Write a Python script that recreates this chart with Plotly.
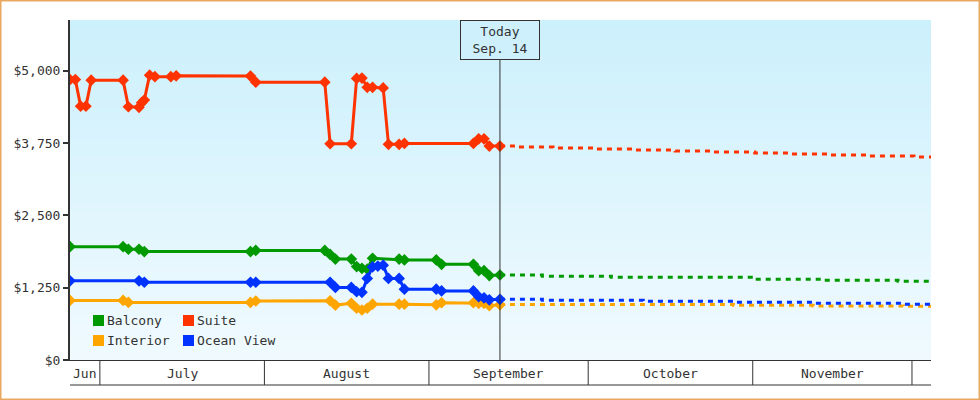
import pandas as pd
import plotly.graph_objects as go

# --- Data: cabin prices (USD), sampled once a day ---
TODAY = "2023-09-14"
X_START, X_END = "2023-06-25 09:00", "2023-12-04 14:00"
MONTH_STARTS = ["2023-07-01", "2023-08-01", "2023-09-01", "2023-10-01", "2023-11-01", "2023-12-01"]
MONTH_LABELS = ["Jun", "July", "August", "September", "October", "November", ""]
Y_TICKS = [0, 1250, 2500, 3750, 5000]

balcony_dates = ["2023-06-25", "2023-07-05", "2023-07-06", "2023-07-08", "2023-07-09", "2023-07-29", "2023-07-30",
                 "2023-08-12", "2023-08-13", "2023-08-14", "2023-08-17", "2023-08-18", "2023-08-19", "2023-08-20",
                 "2023-08-21", "2023-08-26", "2023-08-27", "2023-09-02", "2023-09-03", "2023-09-09", "2023-09-10",
                 "2023-09-11", "2023-09-12", "2023-09-14"]
balcony_prices = [1960, 1960, 1915, 1915, 1875, 1875, 1895, 1895, 1825, 1745, 1745, 1615, 1585, 1570,
                  1760, 1745, 1730, 1730, 1655, 1655, 1545, 1545, 1460, 1470]
balcony_fc_dates = ["2023-09-14", "2023-09-22", "2023-10-05", "2023-11-01", "2023-11-14", "2023-11-28", "2023-12-05"]
balcony_fc_prices = [1468, 1450, 1430, 1395, 1378, 1361, 1361]

interior_dates = ["2023-06-25", "2023-07-05", "2023-07-06", "2023-07-29", "2023-07-30", "2023-08-13", "2023-08-14",
                  "2023-08-17", "2023-08-18", "2023-08-19", "2023-08-20", "2023-08-21", "2023-08-26", "2023-08-27",
                  "2023-09-02", "2023-09-03", "2023-09-09", "2023-09-10", "2023-09-11", "2023-09-12", "2023-09-14"]
interior_prices = [1030, 1030, 995, 995, 1020, 1025, 950, 980, 895, 865, 895, 965, 965, 965,
                   955, 990, 990, 980, 980, 940, 955]
interior_fc_dates = ["2023-09-14", "2023-10-28", "2023-11-12", "2023-11-29", "2023-12-05"]
interior_fc_prices = [960, 945, 935, 928, 928]

ocean_dates = ["2023-06-25", "2023-07-08", "2023-07-09", "2023-07-29", "2023-07-30", "2023-08-13", "2023-08-14",
               "2023-08-17", "2023-08-18", "2023-08-19", "2023-08-20", "2023-08-21", "2023-08-22", "2023-08-23",
               "2023-08-24", "2023-08-26", "2023-08-27", "2023-09-02", "2023-09-03", "2023-09-09", "2023-09-10",
               "2023-09-11", "2023-09-12", "2023-09-14"]
ocean_prices = [1370, 1370, 1345, 1345, 1345, 1345, 1255, 1255, 1180, 1170, 1410, 1610, 1625, 1640,
                1410, 1410, 1225, 1225, 1195, 1195, 1095, 1075, 1040, 1050]
ocean_fc_dates = ["2023-09-14", "2023-09-22", "2023-10-11", "2023-10-28", "2023-11-12", "2023-11-29", "2023-12-05"]
ocean_fc_prices = [1050, 1032, 1015, 998, 980, 963, 963]

suite_dates = ["2023-06-25", "2023-06-26", "2023-06-27", "2023-06-28", "2023-06-29", "2023-07-05", "2023-07-06",
               "2023-07-08", "2023-07-08 12:00", "2023-07-09", "2023-07-10", "2023-07-11", "2023-07-14", "2023-07-15",
               "2023-07-29", "2023-07-30", "2023-08-12", "2023-08-13", "2023-08-17", "2023-08-18", "2023-08-19",
               "2023-08-20", "2023-08-21", "2023-08-23", "2023-08-24", "2023-08-26", "2023-08-27", "2023-09-09",
               "2023-09-10", "2023-09-11", "2023-09-12", "2023-09-14"]
suite_prices = [4850, 4850, 4390, 4390, 4840, 4840, 4380, 4370, 4450, 4495, 4925, 4900, 4900, 4915,
                4910, 4805, 4805, 3740, 3740, 4870, 4875, 4715, 4715, 4705, 3730, 3730, 3745, 3745,
                3825, 3825, 3700, 3700]
suite_fc_dates = ["2023-09-14", "2023-09-17", "2023-09-24", "2023-10-02", "2023-10-09", "2023-10-17", "2023-10-24",
                  "2023-11-01", "2023-11-08", "2023-11-15", "2023-11-22", "2023-12-01", "2023-12-05"]
suite_fc_prices = [3700, 3683, 3666, 3648, 3631, 3614, 3597, 3579, 3562, 3545, 3527, 3510, 3510]

# --- Style ---
COLORS = {"Balcony": "#009900", "Suite": "#ff3300", "Interior": "#ffa500", "Ocean View": "#0033ff"}
FONT = dict(family="DejaVu Sans Mono", size=13, color="#333333")
INK = "#333333"
W, H = 980, 400
PLOT_L, PLOT_R, PLOT_T, PLOT_B = 70, 931, 20, 360
BG_TOP, BG_BOTTOM = (204, 240, 252), (240, 250, 254)


def to_x(dates):
    # prices were scraped in the morning
    return pd.to_datetime(dates, format="ISO8601") + pd.Timedelta(hours=9)


def px(x): return (x - PLOT_L) / (PLOT_R - PLOT_L)
def py(y): return (PLOT_B - y) / (PLOT_B - PLOT_T)


fig = go.Figure()
rooms = [("Balcony", balcony_dates, balcony_prices, balcony_fc_dates, balcony_fc_prices),
         ("Interior", interior_dates, interior_prices, interior_fc_dates, interior_fc_prices),
         ("Ocean View", ocean_dates, ocean_prices, ocean_fc_dates, ocean_fc_prices),
         ("Suite", suite_dates, suite_prices, suite_fc_dates, suite_fc_prices)]
for name, d, p, fd, fp in rooms:
    c = COLORS[name]
    fig.add_trace(go.Scatter(x=to_x(fd), y=fp, mode="lines", name=name + " forecast", showlegend=False,
                             line=dict(color=c, width=3, dash="5px,5px", shape="hv")))
    fig.add_trace(go.Scatter(x=to_x(d), y=p, mode="lines+markers", name=name, showlegend=False,
                             line=dict(color=c, width=3), marker=dict(symbol="diamond", size=9, color=c)))

shapes, annotations = [], []

# gradient background in thin bands
n = 85
for i in range(n):
    t = i / (n - 1)
    col = "rgb(%d,%d,%d)" % tuple(round(a + (b - a) * t) for a, b in zip(BG_TOP, BG_BOTTOM))
    shapes.append(dict(type="rect", xref="paper", yref="paper", x0=0, x1=1, y0=1 - (i + 1) / n - 0.002, y1=1 - i / n,
                       fillcolor=col, line_width=0, layer="below"))

# month band under the plot
shapes.append(dict(type="line", xref="paper", yref="paper", x0=0, x1=1, y0=py(385), y1=py(385), line=dict(color=INK, width=1)))
for m in MONTH_STARTS:
    shapes.append(dict(type="line", xref="x", yref="paper", x0=m, x1=m, y0=py(385), y1=0, line=dict(color=INK, width=1)))
edges = [pd.Timestamp(X_START)] + [pd.Timestamp(m) for m in MONTH_STARTS] + [pd.Timestamp(X_END)]
for a, b, label in zip(edges[:-1], edges[1:], MONTH_LABELS):
    if label:
        annotations.append(dict(x=a + (b - a) / 2, xref="x", y=py(373), yref="paper", text=label,
                                showarrow=False, font=FONT, yanchor="middle"))

# today marker
today = to_x([TODAY])[0]
shapes.append(dict(type="line", xref="x", yref="paper", x0=today, x1=today, y0=0, y1=py(60), line=dict(color=INK, width=1)))
annotations.append(dict(x=today, xref="x", y=1, yref="paper", yanchor="top", showarrow=False,
                        text=f"Today<br>{today:%b}. {today.day}", font=FONT, width=78, height=38, borderpad=0,
                        bordercolor=INK, borderwidth=1, bgcolor="rgb(205,240,252)"))

# legend: coloured squares + labels, two columns
legend_rows = [[("Balcony", 93), ("Suite", 183)], [("Interior", 93), ("Ocean View", 183)]]
for row, yc in zip(legend_rows, [320.5, 340.5]):
    for name, xl in row:
        shapes.append(dict(type="rect", xref="paper", yref="paper", x0=px(xl), x1=px(xl + 11),
                           y0=py(yc + 5.5), y1=py(yc - 5.5), fillcolor=COLORS[name], line_width=0))
        annotations.append(dict(x=px(xl + 13), xref="paper", y=py(yc), yref="paper", text=name, showarrow=False,
                                xanchor="left", yanchor="middle", font=FONT, borderpad=0))

# orange frame round the whole picture
shapes.append(dict(type="rect", xref="paper", yref="paper", x0=px(0.75), x1=px(979.25), y0=py(399.25), y1=py(0.75),
                   line=dict(color="#e8a862", width=1.5)))

fig.update_layout(
    width=W, height=H, autosize=False,
    margin=dict(l=PLOT_L, r=W - PLOT_R, t=PLOT_T, b=H - PLOT_B, pad=0),
    paper_bgcolor="white", plot_bgcolor="rgb(%d,%d,%d)" % BG_BOTTOM,
    font=FONT, showlegend=False, hovermode=False, shapes=shapes, annotations=annotations,
    xaxis=dict(type="date", range=[X_START, X_END], showticklabels=False, ticks="", showgrid=False,
               zeroline=False, showline=True, linecolor=INK, linewidth=1),
    yaxis=dict(range=[0, 5880], tickvals=Y_TICKS, ticktext=[f"${v:,}" for v in Y_TICKS], ticks="outside",
               ticklen=5, tickwidth=2, tickcolor=INK, showgrid=False, zeroline=False,
               showline=True, linecolor=INK, linewidth=2, tickfont=FONT),
)

fig.write_html("out.html", config={"displayModeBar": False},
               post_script="document.body.style.margin = '0';")
